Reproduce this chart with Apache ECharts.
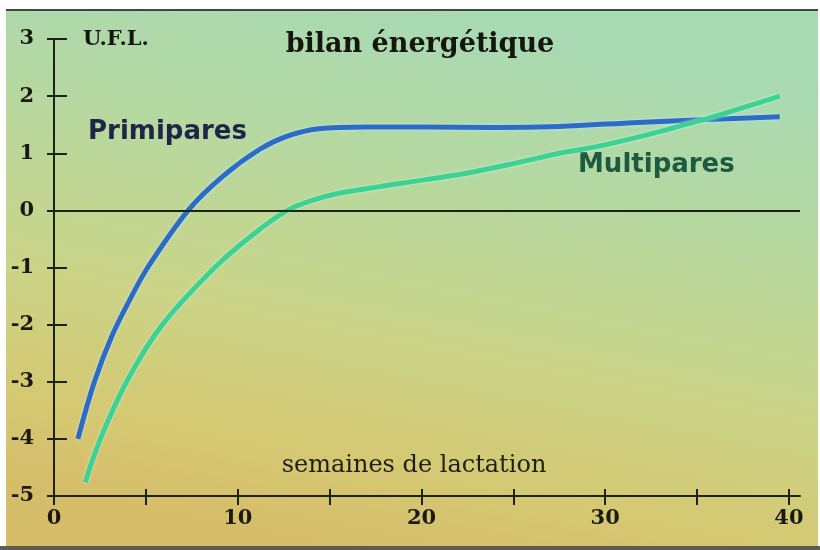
<!DOCTYPE html>
<html>
<head>
<meta charset="utf-8">
<script src="https://cdn.jsdelivr.net/npm/echarts@6/dist/echarts.min.js"></script>
<style>
    html, body { margin: 0; padding: 0; background: #fff; }
    #chart { width: 820px; height: 550px; }
</style>
</head>
<body>
<div id="chart"></div>
<script>
    // semaines de lactation / U.F.L.
    var weeksPrimi = [1.3, 2.2, 3.15, 4.1, 5.1, 7.3, 9.2, 11.2, 12.7, 14.4, 17, 20, 24, 27.5, 31.8, 35.5, 39.5];
    var uflPrimi   = [-4.0, -3.0, -2.2, -1.58, -1.0, 0, 0.6, 1.07, 1.3, 1.43, 1.46, 1.46, 1.45, 1.47, 1.54, 1.59, 1.64];

    var weeksMulti = [1.7, 2.5, 4.0, 5.9, 8.75, 10.8, 12.7, 14.0, 15.5, 18.8, 22.6, 25.3, 27.5, 29.6, 32, 34, 36, 39.5];
    var uflMulti   = [-4.76, -4.02, -2.97, -2.0, -1.0, -0.43, 0, 0.17, 0.3, 0.47, 0.66, 0.84, 1.0, 1.12, 1.3, 1.47, 1.65, 2.0];

    var xTickValues  = [0, 5, 10, 15, 20, 25, 30, 35, 40];
    var xLabelValues = [0, 10, 20, 30, 40];

    function pairs(xs, ys) {
        return xs.map(function (x, i) { return [x, ys[i]]; });
    }

    var ink = '#1c2316';
    var tickFont = {
        color: '#1a1a12',
        fontFamily: 'DejaVu Serif',
        fontWeight: 'bold',
        fontSize: 21
    };

    var chart = echarts.init(document.getElementById('chart'));
    chart.setOption({
        animation: false,
        grid: { left: 54, right: 20, top: 39, bottom: 54 },
        xAxis: [
            {
                type: 'value', min: 0, max: 40.6,
                axisLine: { onZero: false, lineStyle: { color: ink, width: 2 } },
                axisTick: { show: true, inside: false, length: 9, customValues: xTickValues,
                            lineStyle: { color: ink, width: 2 } },
                axisLabel: Object.assign({ customValues: xLabelValues, margin: 12 }, tickFont),
                splitLine: { show: false }
            },
            {
                type: 'value', min: 0, max: 40.6, position: 'bottom',
                axisLine: { show: false, onZero: false },
                axisTick: { show: true, inside: true, length: 7, customValues: xTickValues,
                            lineStyle: { color: ink, width: 2 } },
                axisLabel: { show: false },
                splitLine: { show: false }
            }
        ],
        yAxis: [
            {
                type: 'value', min: -5, max: 3, interval: 1,
                axisLine: { show: true, onZero: false, lineStyle: { color: ink, width: 2 } },
                axisTick: { show: true, inside: false, length: 7, lineStyle: { color: ink, width: 2 } },
                axisLabel: Object.assign({ margin: 20 }, tickFont),
                splitLine: { show: false }
            },
            {
                type: 'value', min: -5, max: 3, interval: 1, position: 'left',
                axisLine: { show: false, onZero: false },
                axisTick: { show: true, inside: true, length: 13, lineStyle: { color: ink, width: 2 } },
                axisLabel: { show: false },
                splitLine: { show: false }
            }
        ],
        series: [
            {
                name: 'Primipares',
                type: 'line',
                smooth: 0.35,
                symbol: 'none',
                data: pairs(weeksPrimi, uflPrimi),
                lineStyle: { color: '#2c6cc6', width: 5,
                             shadowColor: 'rgba(200,240,255,0.9)', shadowBlur: 3 },
                markLine: {
                    silent: true,
                    symbol: 'none',
                    label: { show: false },
                    lineStyle: { color: ink, width: 2, type: 'solid' },
                    data: [{ yAxis: 0 }]
                },
                z: 3
            },
            {
                name: 'Multipares',
                type: 'line',
                smooth: 0.35,
                symbol: 'none',
                data: pairs(weeksMulti, uflMulti),
                lineStyle: { color: '#3fd193', width: 5,
                             shadowColor: 'rgba(200,255,230,0.8)', shadowBlur: 3 },
                z: 4
            }
        ],
        graphic: {
            elements: [
                {
                    type: 'rect', z: -100, silent: true,
                    shape: { x: 6, y: 10, width: 812, height: 536 },
                    style: {
                        fill: new echarts.graphic.LinearGradient(0.55, 0, 0.42, 1, [
                            { offset: 0, color: '#a8dab4' },
                            { offset: 0.3, color: '#b6d8a0' },
                            { offset: 0.6, color: '#cad488' },
                            { offset: 0.85, color: '#d5c872' },
                            { offset: 1, color: '#d6bd6a' }
                        ])
                    }
                },
                {
                    type: 'line', z: -99, silent: true,
                    shape: { x1: 6, y1: 10, x2: 818, y2: 10 },
                    style: { stroke: '#3d4b3f', lineWidth: 2 }
                },
                {
                    type: 'rect', z: -99, silent: true,
                    shape: { x: 0, y: 546, width: 820, height: 4 },
                    style: { fill: '#5c5c52' }
                },
                {
                    type: 'text', x: 420, y: 45, silent: true,
                    style: { text: 'bilan énergétique', fill: '#15160f', align: 'center', verticalAlign: 'middle',
                             font: 'bold 27px "DejaVu Serif"' }
                },
                {
                    type: 'text', x: 83, y: 40, silent: true,
                    style: { text: 'U.F.L.', fill: '#15160f', align: 'left', verticalAlign: 'middle',
                             font: 'bold 21px "DejaVu Serif"' }
                },
                {
                    type: 'text', x: 88, y: 132, silent: true,
                    style: { text: 'Primipares', fill: '#1e2547', align: 'left', verticalAlign: 'middle',
                             font: 'bold 26px "DejaVu Sans"' }
                },
                {
                    type: 'text', x: 578, y: 165, silent: true,
                    style: { text: 'Multipares', fill: '#1d5a3e', align: 'left', verticalAlign: 'middle',
                             font: 'bold 26px "DejaVu Sans"' }
                },
                {
                    type: 'text', x: 414, y: 466, silent: true,
                    style: { text: 'semaines de lactation', fill: '#201f17', align: 'center', verticalAlign: 'middle',
                             font: '24px "DejaVu Serif"' }
                }
            ]
        }
    });
</script>
</body>
</html>
